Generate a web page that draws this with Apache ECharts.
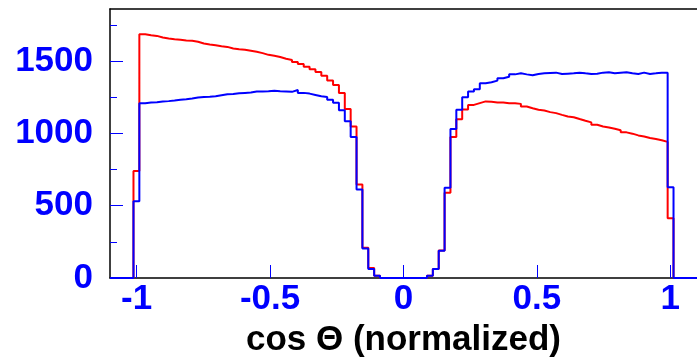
<!DOCTYPE html>
<html>
<head>
<meta charset="utf-8">
<script src="https://cdn.jsdelivr.net/npm/echarts@6/dist/echarts.min.js"></script>
<style>
html,body{margin:0;padding:0;background:#fff;}
#chart{width:697px;height:363px;}
</style>
</head>
<body>
<div id="chart"></div>
<script>
// Histogram binning (100 bins over [-1.1, 1.1])
var histMin = -1.1;
var histMax = 1.1;
var nBins = 100;

// Bin contents, red histogram
var redValues = [
  0, 0, 0, 0, 740, 1686, 1679, 1674, 1663, 1656,
  1651, 1647, 1642, 1640, 1633, 1622, 1615, 1610, 1603, 1598,
  1587, 1581, 1578, 1571, 1564, 1555, 1543, 1537, 1528, 1516,
  1507, 1493, 1479, 1461, 1443, 1424, 1399, 1365, 1335, 1280,
  1168, 1048, 647, 210, 70, 16, 0, 0, 0, 0,
  0, 0, 0, 0, 16, 62, 190, 590, 975, 1097,
  1165, 1197, 1209, 1221, 1218, 1214, 1214, 1209, 1209, 1204,
  1186, 1174, 1163, 1158, 1147, 1140, 1128, 1117, 1112, 1099,
  1087, 1076, 1060, 1048, 1041, 1032, 1021, 1007, 998, 986,
  979, 968, 961, 952, 941, 413, 0, 0, 0, 0
];

// Bin contents, blue histogram
var blueValues = [
  0, 0, 0, 0, 530, 1209, 1213, 1216, 1220, 1223,
  1227, 1232, 1236, 1241, 1248, 1252, 1254, 1257, 1264, 1271,
  1273, 1278, 1280, 1282, 1289, 1289, 1291, 1294, 1291, 1289,
  1287, 1300, 1280, 1275, 1266, 1257, 1252, 1232, 1211, 1160,
  1083, 975, 612, 204, 62, 16, 0, 0, 0, 0,
  0, 0, 0, 0, 16, 62, 188, 624, 1030, 1163,
  1250, 1289, 1305, 1346, 1353, 1365, 1381, 1392, 1408, 1415,
  1408, 1402, 1411, 1415, 1418, 1420, 1411, 1413, 1415, 1420,
  1415, 1411, 1413, 1420, 1422, 1415, 1420, 1422, 1415, 1411,
  1420, 1411, 1415, 1420, 1420, 628, 0, 0, 0, 0
];

var xTickValues = [-1, -0.5, 0, 0.5, 1];
var yTickValues = [0, 500, 1000, 1500];
var yMinorTickValues = [250, 750, 1250, 1750];
var xTitle = 'cos \u0398 (normalized)';

function stepData(values) {
  var w = (histMax - histMin) / nBins;
  var pts = [];
  for (var k = 0; k < values.length; k++) {
    var lo = histMin + k * w, hi = histMin + (k + 1) * w;
    pts.push([lo, values[k]]);
    pts.push([hi, values[k]]);
  }
  return pts;
}

var FONT = "'Liberation Sans', Arial, Helvetica, sans-serif";
var chart = echarts.init(document.getElementById('chart'), null, {renderer: 'canvas'});
chart.setOption({
  animation: false,
  backgroundColor: '#ffffff',
  grid: {left: 110, right: -3, top: 9, bottom: 84, containLabel: false},
  xAxis: [{
    type: 'value', min: histMin, max: histMax, position: 'bottom',
    axisLine: {show: true, onZero: false, lineStyle: {color: '#000', width: 1.5}},
    axisTick: {show: true, inside: true, length: 13, customValues: xTickValues, lineStyle: {color: '#0000ff', width: 1}},
    axisLabel: {show: true, customValues: xTickValues, margin: 4, fontSize: 35, fontWeight: 'bold', color: '#0000ff', fontFamily: FONT,
      formatter: function (v) { return String(v); }},
    splitLine: {show: false},
    name: xTitle, nameLocation: 'middle', nameGap: 45,
    nameTextStyle: {fontSize: 35, fontWeight: 'bold', color: '#000', fontFamily: FONT}
  }, {
    type: 'value', min: histMin, max: histMax, position: 'top',
    axisLine: {show: true, onZero: false, lineStyle: {color: '#000', width: 1.5}},
    axisTick: {show: false}, axisLabel: {show: false}, splitLine: {show: false}
  }],
  yAxis: [{
    type: 'value', min: 0, max: 1860, position: 'left',
    axisLine: {show: true, onZero: false, lineStyle: {color: '#000', width: 1.5}},
    axisTick: {show: true, inside: true, length: 13, customValues: yTickValues, lineStyle: {color: '#0000ff', width: 1}},
    axisLabel: {show: true, customValues: yTickValues, margin: 17, fontSize: 35, fontWeight: 'bold', color: '#0000ff', fontFamily: FONT,
      formatter: function (v) { return String(v); }},
    splitLine: {show: false}
  }, {
    type: 'value', min: 0, max: 1860, position: 'left', offset: 0,
    axisLine: {show: false, onZero: false},
    axisTick: {show: true, inside: true, length: 7, customValues: yMinorTickValues, lineStyle: {color: '#0000ff', width: 1}},
    axisLabel: {show: false}, splitLine: {show: false}
  }],
  series: [{
    type: 'line', name: 'red', data: stepData(redValues), showSymbol: false, symbol: 'none',
    clip: false, lineStyle: {color: '#ff0000', width: 2}, z: 2
  }, {
    type: 'line', name: 'blue', data: stepData(blueValues), showSymbol: false, symbol: 'none',
    clip: false, lineStyle: {color: '#0000ff', width: 2}, z: 3
  }]
});
</script>
</body>
</html>
